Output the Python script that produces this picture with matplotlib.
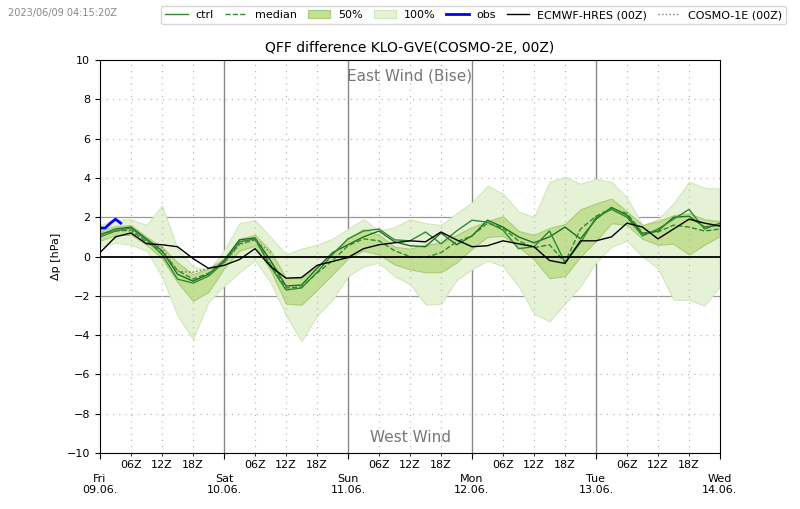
import numpy as np
import matplotlib.pyplot as plt

# lead time in hours from Fri 09.06. 00Z, 3-hourly
hours = np.arange(0, 121, 3)

median = [1.15, 1.3, 1.35, 0.75, 0.25, -0.7, -1.15, -0.85, -0.3, 0.65, 0.85, -0.4, -1.6, -1.55,
          -0.85, -0.2, 0.55, 0.9, 0.8, 0.3, 0.0, -0.05, 0.2, 0.75, 1.05, 1.7, 1.45, 0.8, 0.45,
          0.6, -0.3, 1.4, 2.05, 2.45, 2.2, 1.2, 1.25, 1.6, 1.5, 1.3, 1.4]
ctrl = [1.0, 1.3, 1.45, 0.85, 0.1, -1.15, -1.35, -1.0, -0.3, 0.75, 0.9, -0.5, -1.7, -1.6,
        -0.8, 0.1, 0.9, 1.3, 1.4, 0.85, 0.8, 1.25, 0.65, 1.3, 1.85, 1.75, 1.35, 0.4, 0.5,
        1.3, -0.3, 0.7, 2.0, 2.4, 2.0, 1.05, 1.4, 1.9, 2.4, 1.4, 1.7]
member = [1.1, 1.4, 1.5, 0.9, 0.3, -0.9, -1.25, -0.9, -0.2, 0.85, 0.95, -0.2, -1.5, -1.45,
          -0.6, 0.2, 0.6, 1.0, 1.3, 0.75, 0.55, 0.5, 1.2, 0.6, 1.05, 1.85, 1.5, 1.0, 0.7,
          1.0, 1.5, 0.9, 1.9, 2.5, 2.1, 1.15, 1.3, 2.0, 2.05, 1.5, 1.6]
p25 = [0.8, 1.1, 1.1, 0.6, -0.1, -1.3, -2.25, -1.8, -0.6, 0.3, 0.55, -0.7, -2.4, -2.45,
       -1.7, -0.9, -0.1, 0.3, 0.1, -0.4, -0.65, -0.8, -0.8, -0.3, 0.4, 1.0, 1.05, 0.5, -0.15,
       -1.1, -1.0, 0.0, 0.8, 1.7, 1.6, 0.9, 0.6, 0.65, 0.1, 0.6, 1.05]
p75 = [1.3, 1.55, 1.6, 1.0, 0.5, -0.3, -0.9, -0.6, -0.1, 0.9, 1.1, 0.3, -1.1, -1.1,
       -0.5, 0.2, 0.9, 1.4, 1.1, 0.5, 0.4, 0.6, 0.7, 1.1, 1.5, 1.8, 2.05, 1.3, 1.1,
       1.45, 1.65, 2.4, 2.7, 2.95, 2.3, 1.6, 1.8, 2.1, 2.2, 1.9, 1.8]
pmin = [0.5, 0.7, 0.6, 0.3, -1.0, -3.0, -4.2, -2.3, -1.5, -0.8, -0.2, -1.3, -3.0, -4.3,
        -3.0, -2.2, -1.0, -0.5, -0.3, -1.0, -1.4, -2.45, -2.4, -1.2, -0.65, -0.2, -0.5, -1.5,
        -2.9, -3.3, -2.4, -1.5, -0.3, 0.5, 0.8, 0.0, -0.6, -2.2, -2.2, -2.5, -1.5]
pmax = [1.6, 1.85, 1.9, 1.6, 2.6, 0.4, -0.5, -0.7, 0.3, 1.7, 1.85, 1.0, 0.1, 0.4,
        0.6, 0.9, 1.4, 1.9, 1.3, 1.5, 1.9, 1.7, 1.6, 2.2, 2.75, 3.6, 3.2, 2.3, 2.0,
        3.8, 4.05, 3.7, 3.95, 3.8, 3.0, 1.6, 1.9, 2.7, 3.8, 3.5, 3.45]
ecmwf = [0.2, 1.0, 1.2, 0.65, 0.6, 0.5, -0.1, -0.6, -0.45, -0.15, 0.4, -0.5, -1.1, -1.07,
         -0.45, -0.25, -0.05, 0.4, 0.6, 0.7, 0.8, 0.75, 1.25, 0.85, 0.5, 0.55, 0.8, 0.65,
         0.5, -0.2, -0.35, 0.8, 0.8, 1.0, 1.7, 1.5, 0.9, 1.4, 1.9, 1.7, 1.55]

c1e_hours = np.arange(0, 34, 3)
cosmo1e = [1.1, 1.35, 1.3, 0.8, 0.45, -0.75, -0.8, -0.6, -0.35, 0.6, 0.85, 0.2]

obs_hours = [0, 1, 2, 3, 4]
obs = [1.45, 1.45, 1.7, 1.9, 1.7]

day_labels = ["Fri\n09.06.", "Sat\n10.06.", "Sun\n11.06.", "Mon\n12.06.", "Tue\n13.06.", "Wed\n14.06."]

fig = plt.figure(figsize=(8, 5.09), dpi=100)
ax = fig.add_axes([0.125, 0.11, 0.775, 0.772])

ax.fill_between(hours, pmin, pmax, color="#e6f2d6", edgecolor="#d3e6bd", lw=0.8, label="100%")
ax.fill_between(hours, p25, p75, color="#c2df93", edgecolor="#a9cc78", lw=0.8, label="50%")
ax.plot(hours, member, color="#1f6e1f", lw=1.0)
ax.plot(hours, ctrl, color="#2f8a2f", lw=1.0, label="ctrl")
ax.plot(hours, median, color="#2f8a2f", lw=1.0, ls="--", label="median")
ax.plot(c1e_hours, cosmo1e, color="#777777", lw=1.0, ls=":", label="COSMO-1E (00Z)")
ax.plot(hours, ecmwf, color="black", lw=1.0, label="ECMWF-HRES (00Z)")
ax.plot(obs_hours, obs, color="blue", lw=2, label="obs")
ax.axhline(0, color="black", lw=1.3)

ax.set_xlim(0, 120)
ax.set_ylim(-10, 10)
ax.set_yticks(np.arange(-10, 11, 2))
ax.set_xticks(np.arange(0, 121, 24))
ax.set_xticklabels(day_labels)
minor = [h for h in range(6, 120, 6) if h % 24 != 0]
ax.set_xticks(minor, minor=True)
ax.set_xticklabels(["%02dZ" % (h % 24) for h in minor], minor=True)
ax.tick_params(axis="x", which="major", pad=11, labelsize=8, length=4)
ax.tick_params(axis="x", which="minor", pad=3, labelsize=8, length=2)
ax.tick_params(axis="y", labelsize=8)

for d in range(24, 120, 24):
    ax.axvline(d, color="#888888", lw=1.0, zorder=0.5)
ax.grid(True, which="minor", axis="x", color="#bbbbbb", ls=(0, (1, 4)), lw=0.9)
for y in np.arange(-8, 10, 2):
    if y in (2, -2):
        ax.axhline(y, color="#999999", lw=0.9, zorder=0.5)
    elif y != 0:
        ax.axhline(y, color="#bbbbbb", lw=0.9, ls=(0, (1, 4)), zorder=0.5)

ax.set_ylabel("Δp [hPa]", fontsize=8)
ax.set_title("QFF difference KLO-GVE(COSMO-2E, 00Z)", fontsize=10)
ax.text(60, 9.2, "East Wind (Bise)", ha="center", va="center", color="#777777", fontsize=11)
ax.text(60, -9.2, "West Wind", ha="center", va="center", color="#777777", fontsize=11)

fig.text(0.01, 0.975, "2023/06/09 04:15:20Z", fontsize=7, color="#888888", va="center")

handles, labels = ax.get_legend_handles_labels()
order = ["ctrl", "median", "50%", "100%", "obs", "ECMWF-HRES (00Z)", "COSMO-1E (00Z)"]
hmap = dict(zip(labels, handles))
fig.legend([hmap[k] for k in order], order, loc="upper right", bbox_to_anchor=(0.99, 1.0),
           ncol=7, fontsize=8, frameon=True, handlelength=2.0, columnspacing=1.0,
           handletextpad=0.7)

fig.savefig("out.png", dpi=100)
